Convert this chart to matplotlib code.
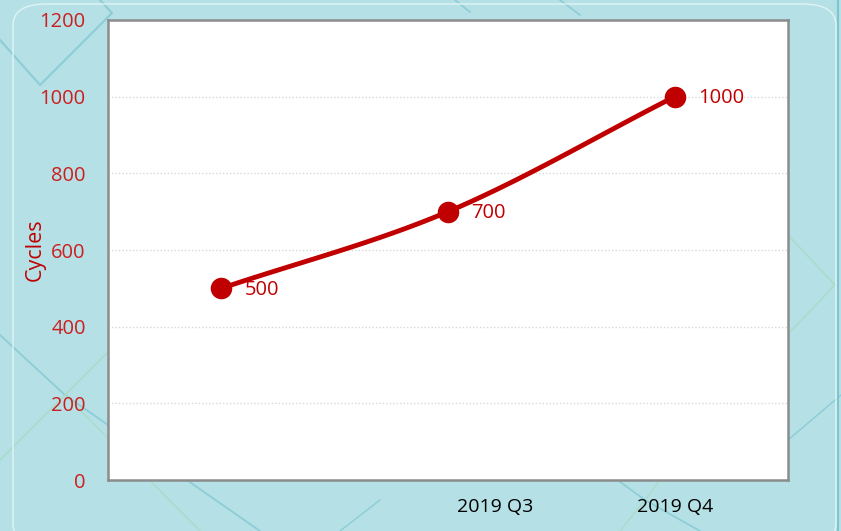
import numpy as np
import matplotlib
matplotlib.use("Agg")
import matplotlib.pyplot as plt
from matplotlib.lines import Line2D
from matplotlib.patches import FancyBboxPatch
import matplotlib.transforms as mtransforms

categories = ["", "2019 Q3", "2019 Q4"]
cycles = [500, 700, 1000]
y_ticks = [0, 200, 400, 600, 800, 1000, 1200]

RED = "#c00000"
TICKRED = "#cc1f1f"
BG = "#b5e0e6"
FONT = ["Open Sans", "DejaVu Sans"]

fig = plt.figure(figsize=(8.41, 5.31), dpi=100, facecolor=BG)

# decorative background lines (figure pixel coords -> fraction)
W, H = 841.0, 531.0
def fl(xs, ys, color, lw=1.2, alpha=1.0):
    fig.add_artist(Line2D([x / W for x in xs], [1 - y / H for y in ys],
                          color=color, lw=lw, alpha=alpha, zorder=0))

teal = "#8ccdd6"
green = "#a9dcc9"
fl([0, 40, 112, 100], [40, 85, 13, 0], teal, 1.5)
fl([0, 65, 260], [335, 395, 531], teal, 1.3)
fl([0, 65, 108], [460, 395, 352], green, 1.2)
fl([65, 200], [395, 531], green, 1.0)
fl([455, 470], [0, 12], teal, 1.2)
fl([560, 580], [0, 15], teal, 1.2)
fl([788, 835, 790], [235, 285, 332], green, 1.2)
fl([590, 645, 700], [460, 500, 531], teal, 1.2)
fl([620, 645, 660], [531, 500, 480], green, 1.0)
fl([340, 380], [531, 500], teal, 1.0)
fl([788, 841], [440, 395], teal, 1.0)
fl([838, 838], [0, 531], "#7cc6d0", 1.5)
# rounded frame
rr = FancyBboxPatch((13 / W, 1 - 545 / H), (836 - 13) / W, (545 - 4) / H,
                    boxstyle="round,pad=0,rounding_size=0.04",
                    transform=fig.transFigure, fill=False,
                    ec="#e2f3f5", lw=1.0, zorder=0)
fig.add_artist(rr)

ax = fig.add_axes([108 / W, 1 - 480 / H, (788 - 108) / W, (480 - 20) / H])
ax.set_facecolor("white")
ax.set_zorder(1)

x = np.arange(len(cycles))
ax.set_xlim(-0.5, len(cycles) - 0.5)
ax.set_ylim(0, 1200)

# smooth line (Catmull-Rom through the data points)
px = np.array(x, dtype=float)
py = np.array(cycles, dtype=float)
P = np.column_stack([px, py])
Pe = np.vstack([2 * P[0] - P[1], P, 2 * P[-1] - P[-2]])
sx, sy = [], []
for i in range(1, len(Pe) - 2):
    p0, p1, p2, p3 = Pe[i - 1], Pe[i], Pe[i + 1], Pe[i + 2]
    t = np.linspace(0, 1, 40)[:, None]
    seg = 0.5 * ((2 * p1) + (-p0 + p2) * t + (2 * p0 - 5 * p1 + 4 * p2 - p3) * t ** 2
                 + (-p0 + 3 * p1 - 3 * p2 + p3) * t ** 3)
    sx.extend(seg[:, 0]); sy.extend(seg[:, 1])
ax.plot(sx, sy, color=RED, lw=3.5, solid_capstyle="round", zorder=3)
ax.plot(x, cycles, "o", color=RED, ms=14.5, zorder=4)

for xi, yi in zip(x, cycles):
    ax.annotate(str(yi), (xi, yi), xytext=(17, -1), textcoords="offset points",
                ha="left", va="center", color=RED, fontsize=14.5, family=FONT)

ax.set_yticks(y_ticks)
ax.set_yticklabels([str(v) for v in y_ticks], color=TICKRED, fontsize=14.5, family=FONT)
ax.tick_params(axis="y", length=0, pad=16)
ax.set_xticks(x)
ax.set_xticklabels(categories, color="black", fontsize=14, family=FONT)
ax.tick_params(axis="x", length=0, pad=13)
# shift the Q3 label to its reference position
lbls = ax.get_xticklabels()
off = mtransforms.ScaledTranslation(47 / 100, 0, fig.dpi_scale_trans)
lbls[1].set_transform(lbls[1].get_transform() + off)

ax.grid(axis="y", color="#d8d8d8", lw=1.0, ls=(0, (1, 1.5)))
ax.set_axisbelow(True)
for s in ax.spines.values():
    s.set_color("#8c8c8c")
    s.set_linewidth(1.8)

ax.set_ylabel("Cycles", color=RED, fontsize=15.5, family=FONT)
ax.yaxis.set_label_coords(-(108 - 46) / (788 - 108), 0.5)

fig.savefig("out.png", dpi=100, facecolor=BG)
